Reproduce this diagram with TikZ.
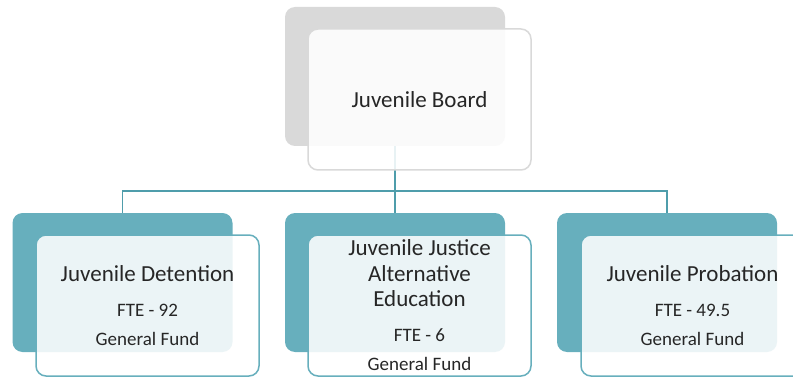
\documentclass[tikz,border=0pt]{standalone}
\usepackage{fontspec}
\setmainfont{Carlito}
\usepackage{tikz}
\usetikzlibrary{positioning}
\definecolor{boxteal}{HTML}{67AFBD}
\definecolor{lineteal}{HTML}{4F9DAB}
\definecolor{boxgrey}{HTML}{D9D9D9}
\definecolor{txtgrey}{HTML}{262626}
\newcommand{\headtxt}{\fontsize{23}{25}\selectfont}

\begin{document}
\begin{tikzpicture}[x=1pt, y=-1pt,
    back/.style={rounded corners=10pt, minimum width=220pt, minimum height=139pt, inner sep=0pt},
    front/.style={draw=boxteal, line width=1.5pt, rounded corners=10pt, fill=white, fill opacity=0.87, text opacity=1,
        minimum width=223pt, minimum height=141pt, inner sep=0pt, align=center, text=txtgrey, font=\fontsize{19}{29}\selectfont},
    link/.style={line width=1.5pt, lineteal}
]
\clip (0,0) rectangle (793,377);
% back plates
\node[back, fill=boxgrey] (boardbk) at (395,76.5) {};
\node[back, fill=boxteal] (detbk) at (122.5,282.5) {};
\node[back, fill=boxteal] (edubk) at (395,282.5) {};
\node[back, fill=boxteal] (probbk) at (667,282.5) {};

\draw[link] (boardbk.south) -- ++(0,45) -| (detbk.north);
\draw[link] (boardbk.south) -- (edubk.north);
\draw[link] (boardbk.south) -- ++(0,45) -| (probbk.north);

% front cards
\node[front, draw=boxgrey] (board) at (419.5,99.5) {\headtxt Juvenile Board};
\node[front] (det) at (147.5,305.5) {{\headtxt Juvenile Detention}\\[6pt] FTE - 92\\ General Fund};
\node[front] (edu) at (419.5,305.5) {{\headtxt Juvenile Justice}\\[-3.5pt]{\headtxt Alternative}\\[-3.5pt]{\headtxt Education}\\[6pt] FTE - 6\\ General Fund};
\node[front] (prob) at (692.5,305.5) {{\headtxt Juvenile Probation}\\[6pt] FTE - 49.5\\ General Fund};
\end{tikzpicture}
\end{document}
